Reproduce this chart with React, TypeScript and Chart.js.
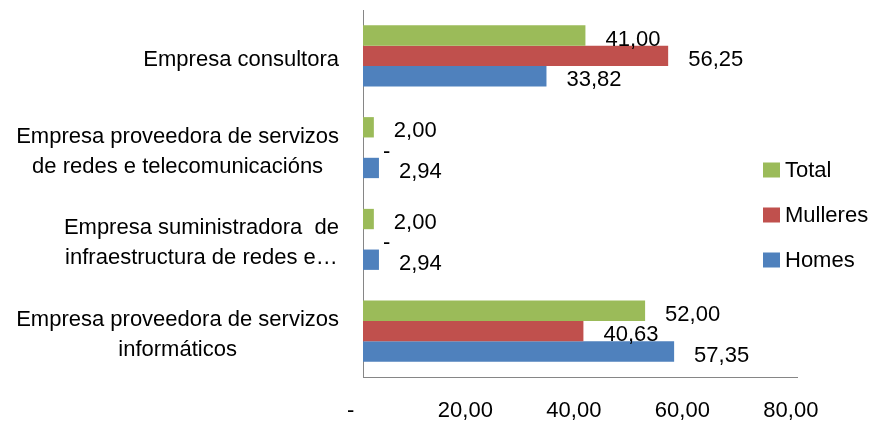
import { useEffect, useRef } from "react";
import { Chart, registerables } from "chart.js";

Chart.register(...registerables);

const categories: string[][] = [
  ["Empresa consultora"],
  ["Empresa proveedora de servizos", "de redes e telecomunicacións"],
  ["Empresa suministradora  de", "infraestructura de redes e…"],
  ["Empresa proveedora de servizos", "informáticos"],
];
const seriesNames = ["Total", "Mulleres", "Homes"];
const totalValues = [41.0, 2.0, 2.0, 52.0];
const mulleresValues = [56.25, 0, 0, 40.63];
const homesValues = [33.82, 2.94, 2.94, 57.35];
const xTickValues = [0, 20, 40, 60, 80];
const seriesColors = ["#9BBB59", "#C0504D", "#4F81BD"];

const FONT_FAMILY = '"Liberation Sans", Arial, sans-serif';
const FONT_SIZE = 22;

const fmt = (v: number) => (v === 0 ? "-" : v.toFixed(2).replace(".", ","));

const yLabelPlugin = {
  id: "yLabels",
  afterDraw(chart: any) {
    const ctx = chart.ctx;
    const ys = chart.scales.y;
    ctx.save();
    ctx.font = `${FONT_SIZE}px ${FONT_FAMILY}`;
    ctx.fillStyle = "#000";
    ctx.textAlign = "center";
    ctx.textBaseline = "middle";
    const rightEdge = ys.right - 24;
    categories.forEach((lines, i) => {
      const yc = ys.getPixelForValue(i) + 4;
      const widest = Math.max(...lines.map((l) => ctx.measureText(l).width));
      const cx = rightEdge - widest / 2;
      const lh = 30;
      lines.forEach((l, j) => {
        ctx.fillText(l, cx, yc + (j - (lines.length - 1) / 2) * lh);
      });
    });
    ctx.restore();
  },
};

const dataLabelPlugin = {
  id: "dataLabels",
  afterDatasetsDraw(chart: any) {
    const ctx = chart.ctx;
    ctx.save();
    ctx.font = `${FONT_SIZE}px ${FONT_FAMILY}`;
    ctx.fillStyle = "#000";
    ctx.textAlign = "left";
    ctx.textBaseline = "middle";
    chart.data.datasets.forEach((ds: any, di: number) => {
      const meta = chart.getDatasetMeta(di);
      meta.data.forEach((el: any, i: number) => {
        const v = ds.data[i];
        ctx.fillText(fmt(v), el.x + 20, el.y + 4);
      });
    });
    ctx.restore();
  },
};

const legendPlugin = {
  id: "customLegend",
  afterDraw(chart: any) {
    const ctx = chart.ctx;
    ctx.save();
    ctx.font = `${FONT_SIZE}px ${FONT_FAMILY}`;
    ctx.textAlign = "left";
    ctx.textBaseline = "middle";
    const x0 = chart.chartArea.right - 34;
    const yStart = 162;
    const gap = 45;
    chart.data.datasets.forEach((ds: any, i: number) => {
      const yc = yStart + i * gap;
      ctx.fillStyle = ds.backgroundColor;
      ctx.fillRect(x0, yc - 7.5, 17, 15);
      ctx.fillStyle = "#000";
      ctx.fillText(ds.label, x0 + 22, yc + 1);
    });
    ctx.restore();
  },
};

export default function App() {
  const ref = useRef<HTMLCanvasElement | null>(null);
  useEffect(() => {
    if (!ref.current) return;
    const values = [totalValues, mulleresValues, homesValues];
    const chart = new Chart(ref.current, {
      type: "bar",
      data: {
        labels: categories.map((c) => c.join(" ")),
        datasets: seriesNames.map((name, i) => ({
          label: name,
          data: values[i],
          backgroundColor: seriesColors[i],
          borderWidth: 0,
          categoryPercentage: 0.665,
          barPercentage: 1.0,
        })),
      },
      options: {
        indexAxis: "y",
        animation: false,
        responsive: false,
        devicePixelRatio: 1,
        events: [],
        layout: { padding: { top: 2, right: 81, bottom: 0, left: 0 } },
        plugins: {
          legend: { display: false },
          tooltip: { enabled: false },
          title: { display: false },
        },
        scales: {
          x: {
            type: "linear",
            min: 0,
            max: 80,
            afterBuildTicks: (scale: any) => {
              scale.ticks = xTickValues.map((v) => ({ value: v }));
            },
            ticks: {
              font: { family: FONT_FAMILY, size: FONT_SIZE },
              color: "#000",
              padding: 21,
              maxRotation: 0,
              autoSkip: false,
              callback: (v: any) => (Number(v) === 0 ? "-    " : fmt(Number(v)) + "  "),
            },
            grid: { display: false, drawTicks: false, tickLength: 0 },
            border: { display: true, color: "#868686", width: 1 },
            afterFit: (scale: any) => {
              scale.height = 45;
            },
          },
          y: {
            type: "category",
            ticks: { display: false },
            grid: { display: false, drawTicks: false, tickLength: 0 },
            border: { display: true, color: "#868686", width: 1 },
            afterFit: (scale: any) => {
              scale.width = 355;
            },
          },
        },
      },
      plugins: [yLabelPlugin, dataLabelPlugin, legendPlugin],
    } as any);
    return () => chart.destroy();
  }, []);
  return (
    <canvas
      ref={ref}
      width={870}
      height={414}
      style={{ display: "block", width: 870, height: 414 }}
    />
  );
}
